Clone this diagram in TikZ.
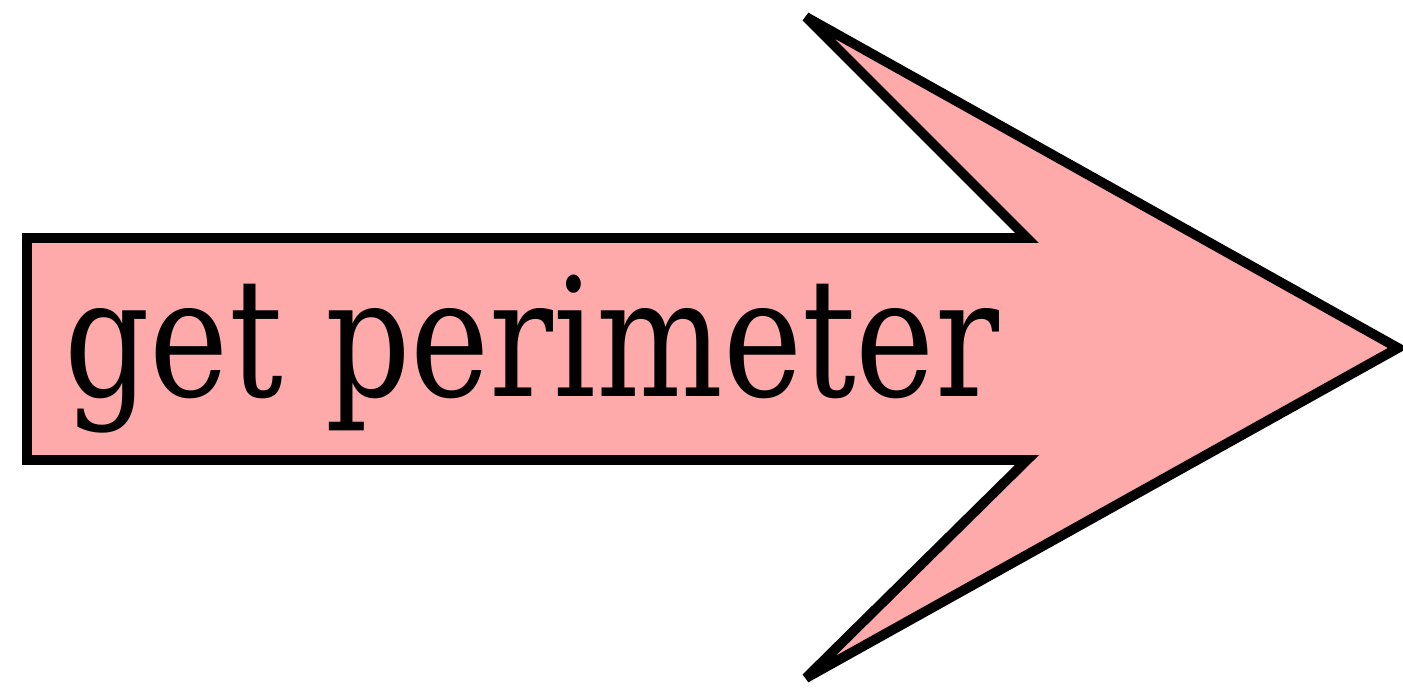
\documentclass[tikz,border=0pt]{standalone}
\usepackage{fontspec}
\setmainfont{DejaVu Serif Condensed}[FakeStretch=0.9]
\begin{document}
\begin{tikzpicture}[x=0.02cm,y=0.02cm,
  arrowshape/.style={draw=black,fill=arrowpink,line width=5.6pt,line join=miter,miter limit=4},
  label/.style={anchor=base west,inner sep=0pt,font=\fontsize{94}{100}\selectfont}]
\definecolor{arrowpink}{HTML}{FFAAAA}
\useasboundingbox (0,0) rectangle (1403,690);
\draw[arrowshape] (27,452) -- (1027,452) -- (806,673) -- (1398,342) -- (806,12) -- (1027,230) -- (27,230) -- cycle;
\node[label] (t) at (64,293) {get perimeter};
\end{tikzpicture}
\end{document}
